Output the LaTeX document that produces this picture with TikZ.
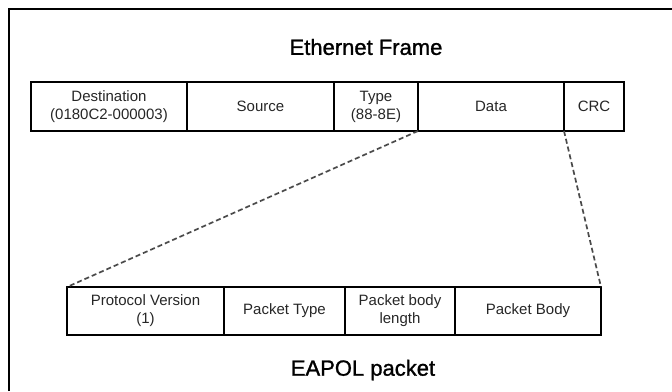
\documentclass[tikz,border=0pt]{standalone}
\usepackage{fontspec}
\setmainfont{Liberation Sans}
\newfontfamily\titlefont[FakeBold=1.2]{Liberation Sans}
\usetikzlibrary{positioning}
\definecolor{txt}{HTML}{262626}
\definecolor{dashgray}{HTML}{4a4a4a}
\tikzset{
    field/.style={
        rectangle, draw, line width=1.4pt,
        inner sep=0pt, outer sep=0pt,
        minimum height=49pt,
        align=center, text=txt,
        font=\fontsize{15}{18}\selectfont
    },
    title/.style={
        text=black,
        font=\titlefont\fontsize{22}{26}\selectfont
    },
    zoomline/.style={
        draw=dashgray, line width=1.7pt,
        dash pattern=on 5pt off 3pt
    },
}
\begin{document}
\begin{tikzpicture}[x=1pt, y=-1pt]
        \useasboundingbox (0,0) rectangle (672,391);
        \draw[line width=1.8pt] (9,391) -- (9,9) -- (672,9);

        \node[title] (eth) at (366,47) {Ethernet Frame};

        \node[field, minimum width=156pt, anchor=north west] (dest) at (31,82) {Destination\\(0180C2-000003)};
        \node[field, minimum width=147pt, right=0pt of dest] (src) {Source};
        \node[field, minimum width=84pt, right=0pt of src] (type) {Type\\(88-8E)};
        \node[field, minimum width=146pt, right=0pt of type] (data) {Data};
        \node[field, minimum width=60pt, right=0pt of data] (crc) {CRC};

        \node[field, minimum width=157pt, minimum height=48pt, anchor=north west] (ver) at (67,287) {Protocol Version\\(1)};
        \node[field, minimum width=121pt, minimum height=48pt, right=0pt of ver] (ptype) {Packet Type};
        \node[field, minimum width=110pt, minimum height=48pt, right=0pt of ptype] (plen) {Packet body\\length};
        \node[field, minimum width=146pt, minimum height=48pt, right=0pt of plen] (body) {Packet Body};

        \node[title] (eapol) at (363,370) {EAPOL packet};

        \draw[zoomline] (data.south west) -- (ver.north west);
        \draw[zoomline] (crc.south west) -- (body.north east);
    \end{tikzpicture}
\end{document}
